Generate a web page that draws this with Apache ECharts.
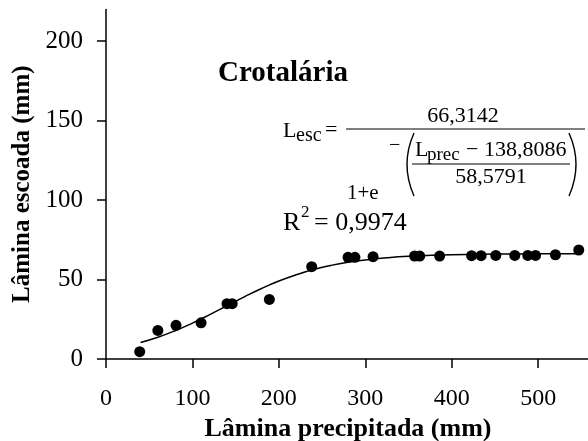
<!DOCTYPE html>
<html><head><meta charset="utf-8">
<script src="https://cdn.jsdelivr.net/npm/echarts@6/dist/echarts.min.js"></script>
<style>html,body{margin:0;padding:0;background:#fff}#c{width:588px;height:441px}</style>
</head><body><div id="c"></div>
<script>
// observed points
const obsX = [39, 60, 81, 110, 140, 146, 189, 238, 280, 288, 309, 357, 363, 386, 423, 434, 451, 473, 488, 497, 520, 547];
const obsY = [4.6, 18, 21.2, 22.8, 34.8, 34.8, 37.5, 58.1, 64, 64, 64.4, 64.8, 64.8, 64.8, 65, 65, 65.2, 65.2, 65.2, 65.2, 65.6, 68.6];
// fitted curve
const curveX = [40, 60, 80, 100, 120, 140, 160, 180, 200, 220, 240, 260, 280, 300, 325, 350, 400, 450, 500, 550];
const curveY = [10.4, 13.7, 17.8, 22.6, 27.9, 33.5, 39.1, 44.4, 49.1, 53.0, 56.3, 58.9, 60.9, 62.3, 63.7, 64.6, 65.6, 66.0, 66.2, 66.3];
const xTicks = [0, 100, 200, 300, 400, 500];
const yTicks = [0, 50, 100, 150, 200];

const FF = '"Liberation Serif", "Times New Roman", serif';
const chart = echarts.init(document.getElementById('c'), null, {renderer: 'canvas'});

function txt(text, x, y, size, align, bold) {
  return {type: 'text', x: x, y: y, z: 100, style: {
    text: text, fill: '#000', fontFamily: FF, fontSize: size,
    fontWeight: bold ? 'bold' : 'normal', align: align || 'left', verticalAlign: 'middle'}};
}
function hline(x1, x2, y) {
  return {type: 'line', z: 100, shape: {x1: x1, y1: y, x2: x2, y2: y}, style: {stroke: '#000', lineWidth: 1.2}};
}
function paren(x, y1, y2, bulge) {
  return {type: 'bezierCurve', z: 100, shape: {x1: x, y1: y1, x2: x, y2: y2, cpx1: x + bulge, cpy1: (y1 + y2) / 2},
    style: {stroke: '#000', lineWidth: 1.4, fill: null}};
}

const graphics = [
  txt('Crotalária', 218, 74, 29, 'left', true),
  txt('L', 283, 131, 22),
  txt('esc', 296, 136, 20),
  txt('=', 325, 130, 22),
  hline(346, 585, 129),
  txt('66,3142', 463, 116, 22, 'center'),
  txt('1+e', 347, 193, 21),
  txt('−', 389, 146, 20),
  paren(414, 133, 196, -14),
  paren(569, 133, 196, 14),
  txt('L', 415, 150, 22),
  txt('prec', 427, 155, 19),
  txt('− 138,8086', 466, 150, 22),
  hline(412, 570, 164),
  txt('58,5791', 491, 177, 22, 'center'),
  txt('R', 283, 223, 26),
  txt('2', 301, 213, 17),
  txt('= 0,9974', 314, 223, 26)
];

const axisStyle = {color: '#000', width: 1.5};
chart.setOption({
  backgroundColor: '#fff',
  animation: false,
  grid: {left: 106, top: 9.4, width: 484, height: 349.6, containLabel: false, outerBoundsMode: 'none'},
  xAxis: {
    type: 'value', min: 0, max: 560, interval: 100,
    axisLine: {show: true, onZero: false, lineStyle: axisStyle},
    axisTick: {show: true, length: 9, inside: false, lineStyle: axisStyle, customValues: xTicks},
    axisLabel: {customValues: xTicks, fontFamily: FF, fontSize: 24, color: '#000', margin: 28},
    splitLine: {show: false},
    name: 'Lâmina precipitada (mm)', nameLocation: 'middle', nameGap: 56,
    nameTextStyle: {fontFamily: FF, fontSize: 26, fontWeight: 'bold', color: '#000'}
  },
  yAxis: {
    type: 'value', min: 0, max: 220, interval: 50,
    axisLine: {show: true, onZero: false, lineStyle: axisStyle},
    axisTick: {show: true, length: 9, inside: false, lineStyle: axisStyle, customValues: yTicks},
    axisLabel: {customValues: yTicks, fontFamily: FF, fontSize: 25, color: '#000', margin: 23},
    splitLine: {show: false},
    name: 'Lâmina escoada (mm)', nameLocation: 'middle', nameGap: 65,
    nameTextStyle: {fontFamily: FF, fontSize: 25, fontWeight: 'bold', color: '#000'}
  },
  series: [
    {type: 'line', data: curveX.map((x, i) => [x, curveY[i]]), smooth: true, showSymbol: false,
     lineStyle: {color: '#000', width: 1.5}, z: 2, silent: true},
    {type: 'scatter', data: obsX.map((x, i) => [x, obsY[i]]), symbol: 'circle', symbolSize: 11,
     itemStyle: {color: '#000', opacity: 1}, z: 3}
  ],
  graphic: graphics
});
</script></body></html>
